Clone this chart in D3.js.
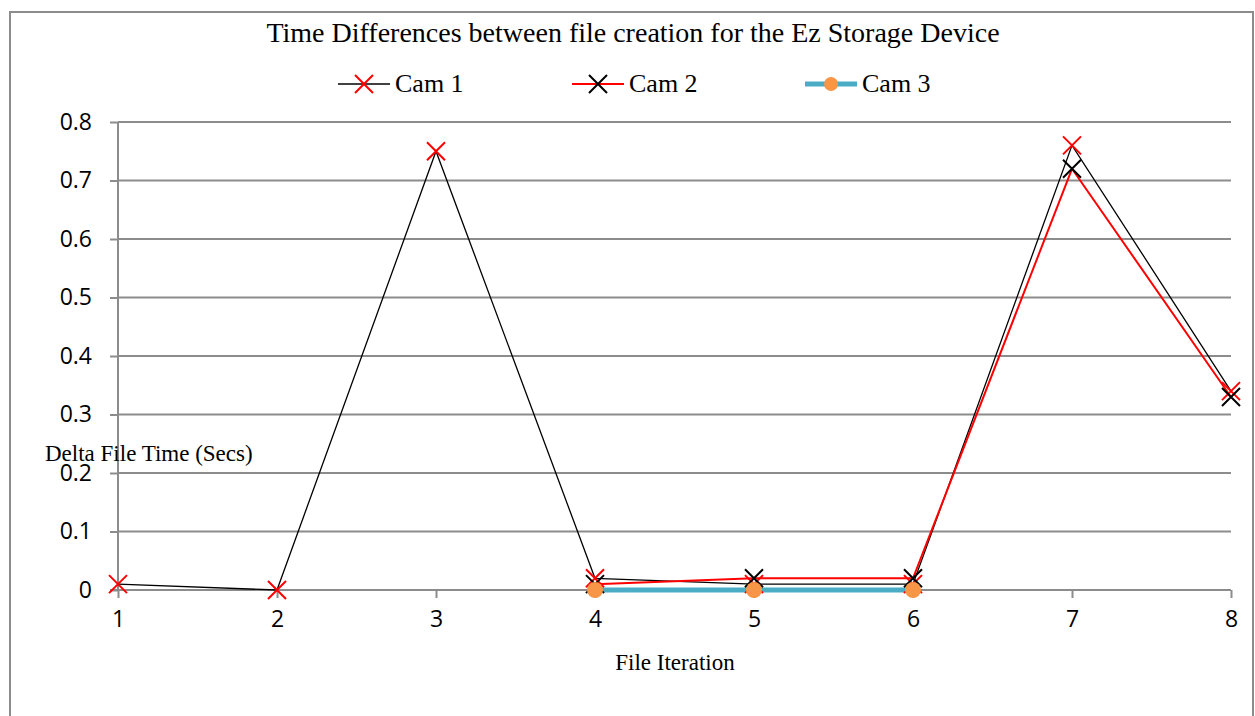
<!DOCTYPE html>
<html lang="en">
<head>
<meta charset="UTF-8">
<title>Time Differences</title>
<script src="https://d3js.org/d3.v7.min.js"></script>
<style>
	body { margin: 0; background: #fff; }
	svg { display: block; }
	.serif { font-family: "Liberation Serif", "DejaVu Serif", serif; fill: #000; }
</style>
</head>
<body>
<div id="chart"></div>
<script>
	// file iteration categories
	const iterations = [1, 2, 3, 4, 5, 6, 7, 8]
	const cam1 = [0.01, 0, 0.75, 0.02, 0.01, 0.01, 0.76, 0.34]
	const cam2 = [null, null, null, 0.01, 0.02, 0.02, 0.72, 0.33]
	const cam3 = [null, null, null, 0, 0, 0, null, null]
	const yTicks = [0, 0.1, 0.2, 0.3, 0.4, 0.5, 0.6, 0.7, 0.8]

	const width = 1255, height = 716
	const plotLeft = 118, plotRight = 1231, plotTop = 122, plotBottom = 590

	const svg = d3.select('#chart').append('svg').attr('width', width).attr('height', height)

	// outer frame
	svg.append('rect').attr('x', 10).attr('y', 12).attr('width', 1243).attr('height', 720)
		.attr('fill', 'none').attr('stroke', '#8c8c8c').attr('stroke-width', 2)

	const x = d3.scalePoint().domain(iterations).range([plotLeft, plotRight])
	const y = d3.scaleLinear().domain([0, 0.8]).range([plotBottom, plotTop])

	// gridlines
	svg.append('g').selectAll('line').data(yTicks.slice(1)).join('line')
		.attr('x1', plotLeft).attr('x2', plotRight)
		.attr('y1', d => y(d)).attr('y2', d => y(d))
		.attr('stroke', '#8c8c8c').attr('stroke-width', 2)

	const yAxis = svg.append('g').attr('transform', `translate(${plotLeft},0)`)
		.call(d3.axisLeft(y).tickValues(yTicks).tickSize(8).tickPadding(18).tickFormat(d => d === 0 ? '0' : d3.format('.1f')(d)))
	yAxis.selectAll('path, line').attr('stroke', '#8c8c8c').attr('stroke-width', 2)
	yAxis.select('.domain').attr('d', `M0,${plotTop}V${plotBottom}`)

	const xAxis = svg.append('g').attr('transform', `translate(0,${plotBottom})`)
		.call(d3.axisBottom(x).tickSize(8).tickPadding(13).tickSizeOuter(0))
	xAxis.selectAll('path, line').attr('stroke', '#8c8c8c').attr('stroke-width', 2)
	xAxis.select('.domain').attr('d', `M${plotLeft - 8},0H${plotRight}`)

	svg.selectAll('.tick text')
		.attr('font-family', '"Open Sans", "Liberation Sans", sans-serif')
		.attr('font-size', 23).attr('fill', '#000')

	const line = d3.line().defined(d => d.v !== null).x(d => x(d.i)).y(d => y(d.v))
	const pts = arr => arr.map((v, k) => ({ i: iterations[k], v: v }))

	function cross(g, cx, cy, col) {
		const s = 9
		g.append('path').attr('d', `M${cx - s},${cy - s}L${cx + s},${cy + s}M${cx - s},${cy + s}L${cx + s},${cy - s}`)
			.attr('stroke', col).attr('stroke-width', 2).attr('fill', 'none')
	}

	const series = [
		{ name: 'Cam 1', data: cam1, line: '#000', lw: 1.3, marker: 'x', mcol: '#ff0000' },
		{ name: 'Cam 2', data: cam2, line: '#ff0000', lw: 2, marker: 'x', mcol: '#000' },
		{ name: 'Cam 3', data: cam3, line: '#4bacc6', lw: 5, marker: 'o', mcol: '#f79646' }
	]

	// lines first, markers on top
	const plot = svg.append('g')
	series.forEach(s => {
		plot.append('path').datum(pts(s.data)).attr('d', line)
			.attr('fill', 'none').attr('stroke', s.line).attr('stroke-width', s.lw)
	})
	series.forEach(s => {
		pts(s.data).filter(d => d.v !== null).forEach(d => {
			if (s.marker === 'x') cross(plot, x(d.i), y(d.v), s.mcol)
			else plot.append('circle').attr('cx', x(d.i)).attr('cy', y(d.v)).attr('r', 8).attr('fill', s.mcol)
		})
	})

	// title and labels
	svg.append('text').attr('class', 'serif').attr('x', 633).attr('y', 42).attr('text-anchor', 'middle')
		.attr('font-size', 28).text('Time Differences between file creation for the Ez Storage Device')
	svg.append('text').attr('class', 'serif').attr('x', 45).attr('y', 461)
		.attr('font-size', 23).text('Delta File Time (Secs)')
	svg.append('text').attr('class', 'serif').attr('x', 675).attr('y', 670).attr('text-anchor', 'middle')
		.attr('font-size', 23).text('File Iteration')

	// legend
	const legX = [338, 572, 805]
	series.forEach((s, k) => {
		const g = svg.append('g').attr('transform', `translate(${legX[k]},84)`)
		g.append('line').attr('x1', 0).attr('x2', 52).attr('y1', 0).attr('y2', 0)
			.attr('stroke', s.line).attr('stroke-width', s.lw)
		if (s.marker === 'x') cross(g, 26, 0, s.mcol)
		else g.append('circle').attr('cx', 26).attr('cy', 0).attr('r', 7).attr('fill', s.mcol)
		g.append('text').attr('class', 'serif').attr('x', 57).attr('y', 8).attr('font-size', 26).text(s.name)
	})
</script>
</body>
</html>
